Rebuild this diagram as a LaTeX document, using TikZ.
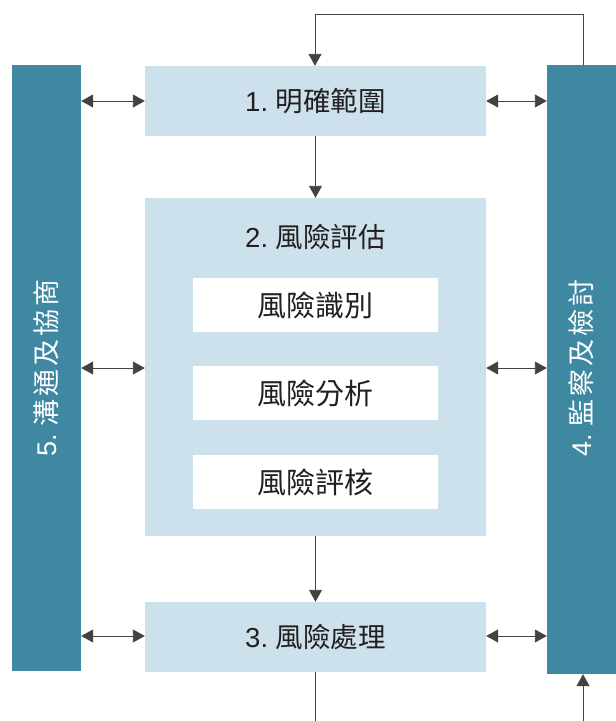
\documentclass[tikz,border=0pt]{standalone}
\usepackage{fontspec}
\setmainfont{Noto Sans CJK TC}[Scale=1]
\newfontfamily\numfont{Liberation Sans}
\usetikzlibrary{arrows.meta}
\definecolor{bar}{HTML}{3F88A2}
\definecolor{light}{HTML}{CCE1EB}
\definecolor{ink}{HTML}{231F20}
\tikzset{
  barbox/.style={fill=bar, draw=none, minimum width=69pt, inner sep=0pt},
  bartext/.style={rotate=90, text=white, font=\fontsize{27}{32}\selectfont\addfontfeature{LetterSpace=12}, inner sep=0pt},
  mainbox/.style={fill=light, draw=none, minimum width=341pt, text=ink, font=\fontsize{27.5}{32}\selectfont, inner sep=0pt},
  subbox/.style={fill=white, draw=none, minimum width=245pt, minimum height=54pt, text=ink, font=\fontsize{29}{34}\selectfont, inner sep=0pt},
  conn/.style={draw=ink!85, line width=0.9pt, -{Triangle[length=12pt,width=13pt]}},
  dconn/.style={draw=ink!85, line width=0.9pt, {Triangle[length=12pt,width=13pt]}-{Triangle[length=12pt,width=13pt]}},
  plain/.style={draw=ink!85, line width=0.9pt}
}
\begin{document}
\begin{tikzpicture}[x=1pt,y=-1pt]
\useasboundingbox (0,0) rectangle (616,721);
% bars
\node[barbox, minimum height=606pt] (L) at (46.5,368) {};
\node[bartext] (Lt) at (46.5,368) {\numfont 5.\ \normalfont\addfontfeature{LetterSpace=12}溝通及協商};
\node[barbox, minimum height=609pt] (R) at (581.5,369.5) {};
\node[bartext] (Rt) at (581.5,368) {\numfont 4.\ \normalfont\addfontfeature{LetterSpace=12}監察及檢討};
% main boxes
\node[mainbox, minimum height=70pt] (B1) at (315.5,101) {\numfont 1.\ \normalfont 明確範圍};
\node[mainbox, minimum height=338pt] (B2) at (315.5,367) {};
\node[text=ink, font=\fontsize{27.5}{32}\selectfont, inner sep=0pt] (B2t) at (315.5,237) {\numfont 2.\ \normalfont 風險評估};
\node[subbox] (S1) at (315.5,305) {風險識別};
\node[subbox] (S2) at (315.5,393) {風險分析};
\node[subbox] (S3) at (315.5,482) {風險評核};
\node[mainbox, minimum height=70pt] (B3) at (315.5,637) {\numfont 3.\ \normalfont 風險處理};
% vertical flow
\draw[conn] (B1.south) -- (B2.north);
\draw[conn] (B2.south) -- (B3.north);
% top feedback
\coordinate (T1) at (583,14);
\coordinate (T2) at (315,14);
\draw[conn] (R.north -| T1) -- (T1) -- (T2) -- (B1.north -| T2);
% bottom
\coordinate (D1) at (315,721);
\coordinate (D2) at (583,721);
\draw[plain] (B3.south -| D1) -- (D1);
\draw[conn] (D2) -- (R.south -| D2);
% double arrows
\foreach \b/\yy in {B1/101, B2/368, B3/636} {
  \draw[dconn] (L.east |- 0,\yy) -- (\b.west |- 0,\yy);
  \draw[dconn] (\b.east |- 0,\yy) -- (R.west |- 0,\yy);
}
\end{tikzpicture}
\end{document}
